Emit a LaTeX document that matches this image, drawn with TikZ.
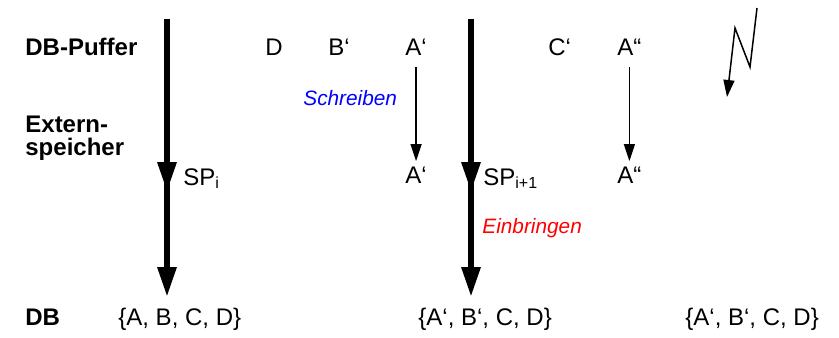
\documentclass[tikz,border=0pt]{standalone}
\usepackage{fontspec}
\setmainfont{Liberation Sans}
\usetikzlibrary{arrows.meta, positioning}

\begin{document}
\begin{tikzpicture}[
    x=0.5pt, y=-0.5pt,
    font=\fontsize{12}{14}\selectfont,
    % Styles
    page_text/.style={anchor=base west, inner sep=0pt},
    side_label/.style={page_text, font=\fontsize{12}{11.5}\selectfont\bfseries, align=left},
    action_blue/.style={page_text, font=\fontsize{10.4}{12}\selectfont\itshape, text=blue},
    action_red/.style={page_text, font=\fontsize{10.4}{12}\selectfont\itshape, text=red},
    flow_arrow/.style={line width=3pt, -{Triangle[width=9pt,length=15pt]}},
    write_arrow/.style={line width=0.75pt, -{Triangle[width=5.5pt,length=8.5pt]}}
]
\useasboundingbox (0,0) rectangle (839,337);

% 1. Row labels
\node[side_label] (lbl_buf) at (25,55) {DB-Puffer};
\node[side_label] (lbl_ext) at (25,155) {Extern-\\speicher};
\node[side_label] (lbl_db) at (25,325) {DB};

% 2. Pages in the buffer
\node[page_text] (buf_D) at (265,55) {D};
\node[page_text] (buf_B) at (328,55) {B‘};
\node[page_text] (buf_A1) at (405,55) {A‘};
\node[page_text] (buf_C) at (548,55) {C‘};
\node[page_text] (buf_A2) at (617,55) {A“};
\node[action_blue] (act_write) at (303,105) {Schreiben};

% 3. External storage
\node[page_text] (sp_i) at (183,185) {SP\textsubscript{i}};
\node[page_text] (ext_A1) at (405,183) {A‘};
\node[page_text] (sp_next) at (483,185) {SP\textsubscript{i+1}};
\node[page_text] (ext_A2) at (617,183) {A“};
\node[action_red] (act_apply) at (482,233) {Einbringen};

% 4. Database states
\node[page_text] (db_0) at (118,325) {\{A, B, C, D\}};
\node[page_text] (db_1) at (418,325) {\{A‘, B‘, C, D\}};
\node[page_text] (db_2) at (685,325) {\{A‘, B‘, C, D\}};

% Checkpoint arrows
\coordinate (top_i) at (167,19);
\coordinate (tip_i) at (167,192);
\coordinate (end_i) at (167,297);
\coordinate (top_next) at (471,19);
\coordinate (tip_next) at (471,192);
\coordinate (end_next) at (471,297);
\draw[flow_arrow] (top_i) -- (end_i);
\draw[flow_arrow] (top_i) -- (tip_i);
\draw[flow_arrow] (top_next) -- (end_next);
\draw[flow_arrow] (top_next) -- (tip_next);

% Writes to external storage
\draw[write_arrow, shorten <=6pt, shorten >=2.5pt] (buf_A1.south) -- (ext_A1.north);
\draw[write_arrow, shorten <=6pt, shorten >=2.5pt] (buf_A2.south) -- (ext_A2.north);

% Crash
\draw[write_arrow, line join=miter] (757,8) -- (750,67) -- (735,28) -- (727,97);

\end{tikzpicture}
\end{document}
